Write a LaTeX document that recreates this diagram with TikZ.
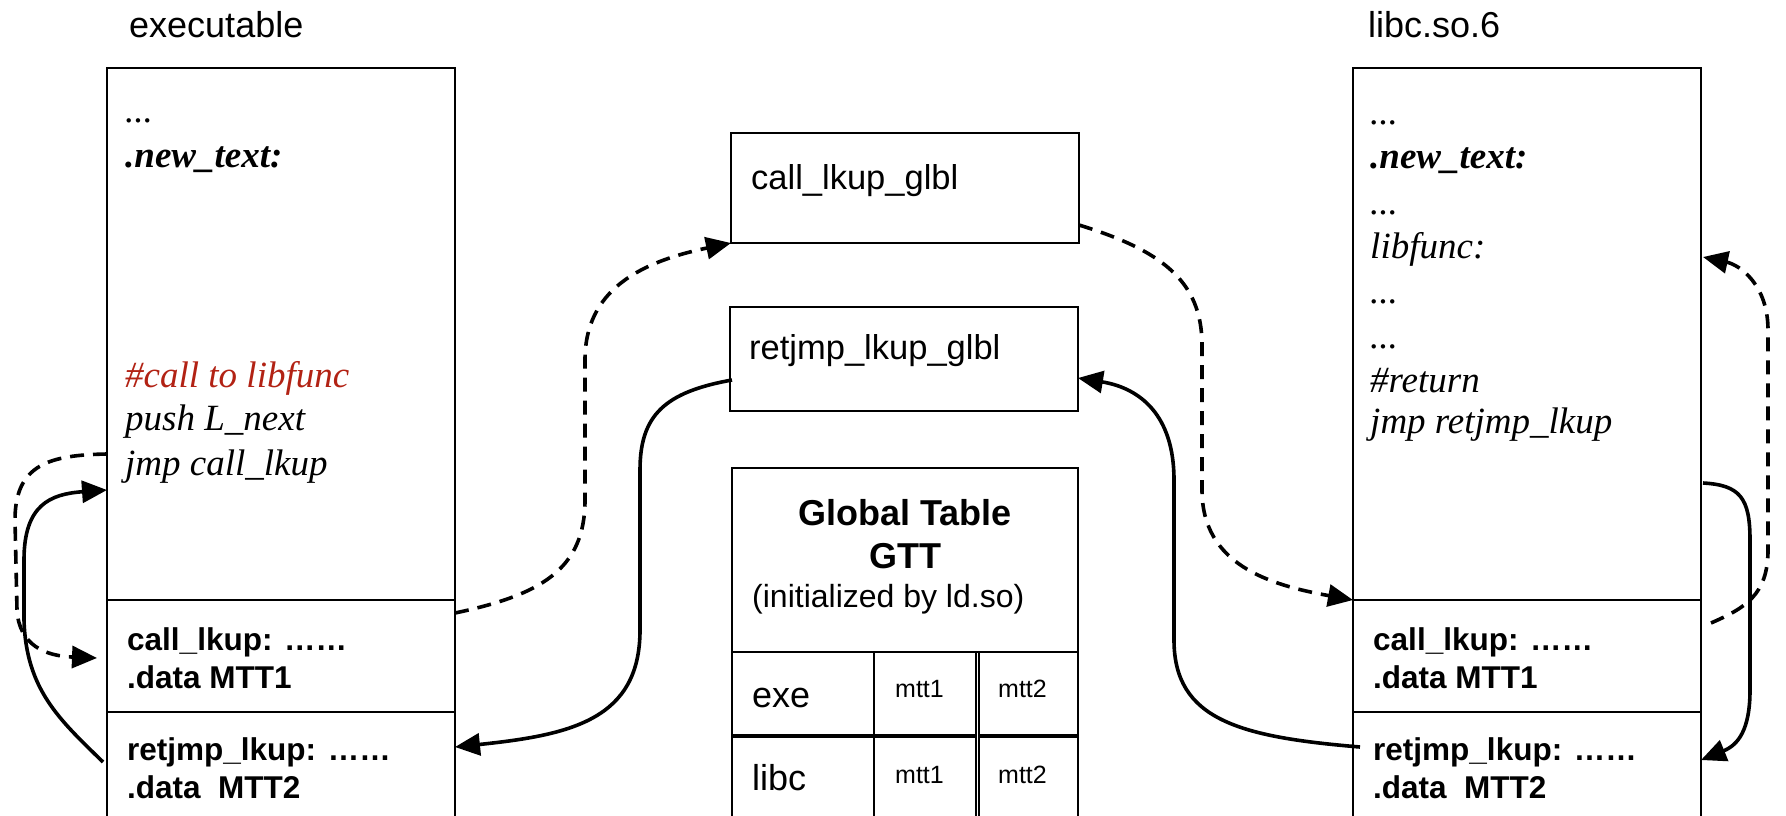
\documentclass[tikz,border=0pt]{standalone}
\usepackage{fontspec}
\setmainfont{Liberation Serif}
\setsansfont{Liberation Sans}
\usetikzlibrary{arrows.meta,calc}
\definecolor{cmtred}{RGB}{178,34,20}
\begin{document}
\begin{tikzpicture}[x=1pt,y=-1pt,
  box/.style={draw,line width=2.5pt,inner sep=0pt,outer sep=0pt,anchor=north west},
  lbl/.style={anchor=base west,inner sep=0pt},
  title/.style={lbl,font=\sffamily\fontsize{36}{40}\selectfont},
  code/.style={lbl,font=\itshape\fontsize{37}{40}\selectfont},
  codeb/.style={lbl,font=\bfseries\itshape\fontsize{37}{40}\selectfont},
  sect/.style={lbl,font=\sffamily\bfseries\fontsize{31.5}{36}\selectfont},
  glbl/.style={lbl,font=\sffamily\fontsize{34.5}{40}\selectfont},
  cell/.style={lbl,font=\sffamily\fontsize{36}{40}\selectfont},
  small/.style={lbl,font=\sffamily\fontsize{25}{30}\selectfont},
  conn/.style={line width=3.6pt,-{Triangle[length=25pt,width=22pt]}},
  dconn/.style={conn,dash pattern=on 14pt off 9pt},
]
\useasboundingbox (0,0) rectangle (1786,815);
\fill[white] (0,0) rectangle (1786,815);
\clip (0,0) rectangle (1786,815);

% executable
\node[box,minimum width=348pt,minimum height=532pt] (exetext) at (107,68) {};
\node[box,minimum width=348pt,minimum height=112pt] (exelkup) at (107,600) {};
\node[box,minimum width=348pt,minimum height=130pt] (exeret) at (107,712) {};
% libc
\node[box,minimum width=348pt,minimum height=532pt] (libtext) at (1353,68) {};
\node[box,minimum width=348pt,minimum height=112pt] (liblkup) at (1353,600) {};
\node[box,minimum width=348pt,minimum height=130pt] (libret) at (1353,712) {};
% middle
\node[box,minimum width=348pt,minimum height=110pt] (callg) at (731,133) {};
\node[box,minimum width=348pt,minimum height=104pt] (retg) at (730,307) {};
\node[box,minimum width=346pt,minimum height=184pt] (gtt) at (732,468) {};
\node[box,minimum width=142pt,minimum height=83pt] (exec) at (732,652) {};
\node[box,minimum width=102pt,minimum height=83pt] (mtta) at (874,652) {};
\node[box,minimum width=99pt,minimum height=83pt] (mttb) at (979,652) {};
\node[box,minimum width=142pt,minimum height=100pt] (libcc) at (732,737) {};
\node[box,minimum width=102pt,minimum height=100pt] (mttc) at (874,737) {};
\node[box,minimum width=99pt,minimum height=100pt] (mttd) at (979,737) {};

% titles
\node[title] (exetitle) at (129,37) {executable};
\node[title] (libtitle) at (1368,37) {libc.so.6};

% executable texts
\node[code] (e1) at (125,122) {...};
\node[codeb] (e2) at (125,167) {.new\_text:};
\node[code,text=cmtred] (e3) at (125,387) {\#call to libfunc};
\node[code] (e4) at (125,430) {push L\_next};
\node[code] (e5) at (125,475) {jmp call\_lkup};
\node[sect] (e6) at (127,650) {call\_lkup: ……};
\node[sect] (e7) at (127,688) {.data MTT1};
\node[sect] (e8) at (127,760) {retjmp\_lkup: ……};
\node[sect] (e9) at (127,798) {.data\ \ MTT2};

% libc texts
\node[code] (l1) at (1370,124) {...};
\node[codeb] (l2) at (1370,168) {.new\_text:};
\node[code] (l3) at (1370,214) {...};
\node[code] (l4) at (1370,258) {libfunc:};
\node[code] (l5) at (1370,303) {...};
\node[code] (l6) at (1370,348) {...};
\node[code] (l7) at (1370,392) {\#return};
\node[code] (l8) at (1370,433) {jmp retjmp\_lkup};
\node[sect] (l9) at (1373,650) {call\_lkup: ……};
\node[sect] (l10) at (1373,688) {.data MTT1};
\node[sect] (l11) at (1373,760) {retjmp\_lkup: ……};
\node[sect] (l12) at (1373,798) {.data\ \ MTT2};

% middle texts
\node[glbl] (t1) at (751,189) {call\_lkup\_glbl};
\node[glbl] (t2) at (749,359) {retjmp\_lkup\_glbl};
\node[cell,font=\sffamily\bfseries\fontsize{36}{40}\selectfont,anchor=base] (g1) at (905,525) {Global Table};
\node[cell,font=\sffamily\bfseries\fontsize{36}{40}\selectfont,anchor=base] (g2) at (905,568) {GTT};
\node[cell,font=\sffamily\fontsize{32}{36}\selectfont] (g3) at (752,607) {(initialized by ld.so)};
\node[cell] (g4) at (752,707) {exe};
\node[small] (g5) at (895,697) {mtt1};
\node[small] (g6) at (998,697) {mtt2};
\node[cell] (g7) at (752,790) {libc};
\node[small] (g8) at (895,783) {mtt1};
\node[small] (g9) at (998,783) {mtt2};

% connectors
\draw[dconn] ($(exetext.north west)+(0,386)$) .. controls (50,455) and (15,464) .. (15,520) -- (17,610) .. controls (19,645) and (45,656) .. ($(exelkup.west)+(-10,2)$);
\draw[conn] ($(exeret.north west)+(-4,50)$) .. controls (60,720) and (26,690) .. (24,620) -- (24,560) .. controls (24,505) and (50,494) .. ($(exetext.north west)+(0,422)$);
\draw[dconn] ($(exelkup.north east)+(0,13)$) .. controls (540,595) and (585,570) .. (585,500) -- (585,360) .. controls (585,290) and (640,262) .. (callg.south west);
\draw[conn] ($(retg.north west)+(2,73)$) .. controls (665,392) and (640,415) .. (640,470) -- (640,630) .. controls (640,720) and (570,735) .. ($(exeret.north east)+(0,35)$);
\draw[dconn] ($(callg.north east)+(0,92)$) .. controls (1160,250) and (1202,280) .. (1202,345) -- (1202,490) .. controls (1202,565) and (1270,585) .. (liblkup.north west);
\draw[conn] ($(libret.north west)+(7,35)$) .. controls (1240,737) and (1174,720) .. (1174,640) -- (1174,480) .. controls (1174,415) and (1140,388) .. ($(retg.north east)+(0,71)$);
\draw[conn] ($(libtext.north east)+(2,415)$) .. controls (1740,485) and (1750,498) .. (1750,540) -- (1750,690) .. controls (1750,730) and (1738,745) .. ($(libret.north east)+(0,48)$);
\draw[dconn] ($(liblkup.north east)+(10,23)$) .. controls (1745,608) and (1768,595) .. (1768,550) -- (1768,330) .. controls (1768,285) and (1740,265) .. ($(libtext.north east)+(2,189)$);
\end{tikzpicture}
\end{document}
